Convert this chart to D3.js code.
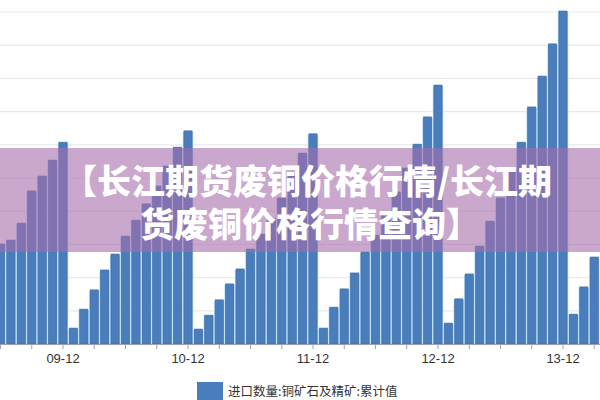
<!DOCTYPE html>
<html><head><meta charset="utf-8">
<script src="https://cdn.jsdelivr.net/npm/d3@7"></script>
<style>html,body{margin:0;padding:0;background:#fff;}svg{display:block;}</style>
</head><body>
<svg id="c" width="600" height="400"></svg>
<script>
// Categories: months (yy-mm), Jun 2009 .. Mar 2014
const categories = [
 "09-06","09-07","09-08","09-09","09-10","09-11","09-12",
 "10-01","10-02","10-03","10-04","10-05","10-06","10-07","10-08","10-09","10-10","10-11","10-12",
 "11-01","11-02","11-03","11-04","11-05","11-06","11-07","11-08","11-09","11-10","11-11","11-12",
 "12-01","12-02","12-03","12-04","12-05","12-06","12-07","12-08","12-09","12-10","12-11","12-12",
 "13-01","13-02","13-03","13-04","13-05","13-06","13-07","13-08","13-09","13-10","13-11","13-12",
 "14-01","14-02","14-03"];
// 进口数量:铜矿石及精矿:累计值 (万吨)
const values = [
 301,313,364,461,506,554,608,
 48,105,163,223,271,325,373,422,476,536,593,642,
 45,87,133,181,226,286,331,380,440,506,575,633,
 48,111,166,214,277,328,395,458,530,602,684,780,
 63,136,211,295,370,440,521,608,714,807,904,1003,
 90,172,262];
const tickLabels = ["09-12","10-12","11-12","12-12","13-12"];
const gridValues = [100,200,300,400,500,600,700,800,900,1000];
const seriesName = "进口数量:铜矿石及精矿:累计值";
const titleLines = ["【长江期货废铜价格行情/长江期","货废铜价格行情查询】"];

const svg = d3.select("#c");
const step = 125/12;
const x0 = 0.5 - step/2;
const x = d3.scaleBand().domain(categories).range([x0, x0 + step*categories.length]).paddingInner(0).paddingOuter(0);
const y = d3.scaleLinear().domain([0,1000]).range([344,12]);

// gridlines
svg.append("g").selectAll("line").data(gridValues).join("line")
  .attr("x1",0).attr("x2",600)
  .attr("y1",d=>y(d)).attr("y2",d=>y(d))
  .attr("stroke","#e9e9e9").attr("stroke-width",1.2);

// bars
const bw = 8.2;
const g = svg.append("g");
g.selectAll("rect.glow").data(categories).join("rect").attr("class","glow")
  .attr("x",d=>x(d)+x.bandwidth()/2-bw/2-1.1).attr("width",bw+2.2)
  .attr("y",(d,i)=>y(values[i])+1).attr("height",(d,i)=>y(0)-y(values[i])-1)
  .attr("fill","#acd6f4");
g.selectAll("rect.bar").data(categories).join("rect").attr("class","bar")
  .attr("x",d=>x(d)+x.bandwidth()/2-bw/2).attr("width",bw)
  .attr("y",(d,i)=>y(values[i])).attr("height",(d,i)=>y(0)-y(values[i]))
  .attr("fill","#4a7dbb").attr("stroke","#3d6aa3").attr("stroke-width",0.6);

// axis
const tickCats = categories.filter((d,i)=>i%3===0);
const axis = d3.axisBottom(x).tickValues(tickCats).tickSize(5)
  .tickFormat(d=>tickLabels.includes(d)?d:"");
const ax = svg.append("g").attr("transform","translate(0,344)").call(axis);
ax.select(".domain").attr("stroke","#9aa3ad").attr("d","M0,0.5H600");
ax.selectAll(".tick line").attr("stroke","#9aa3ad");
ax.selectAll(".tick text").attr("font-family","Liberation Sans, Arial, sans-serif")
  .attr("font-size","13px").attr("fill","#333").attr("dy","0.85em");

// legend
svg.append("rect").attr("x",197).attr("y",382).attr("width",26).attr("height",18).attr("fill","#4a7dbb");
svg.append("text").attr("x",228).attr("y",396).text(seriesName)
  .attr("font-family","Noto Sans CJK SC").attr("font-size","12.5px").attr("fill","#333");

// banner overlay
svg.append("rect").attr("x",0).attr("y",148).attr("width",600).attr("height",104)
  .attr("fill","rgb(166,109,171)").attr("fill-opacity",0.6);
const title = svg.append("text")
  .attr("font-family","Noto Sans CJK SC").attr("font-weight",900)
  .attr("font-size","34px").attr("fill","#fff");
title.selectAll("tspan").data(titleLines).join("tspan")
  .attr("x",(d,i)=>i===0?63:140).attr("y",(d,i)=>i===0?194:237)
  .text(d=>d);
</script>
</body></html>
